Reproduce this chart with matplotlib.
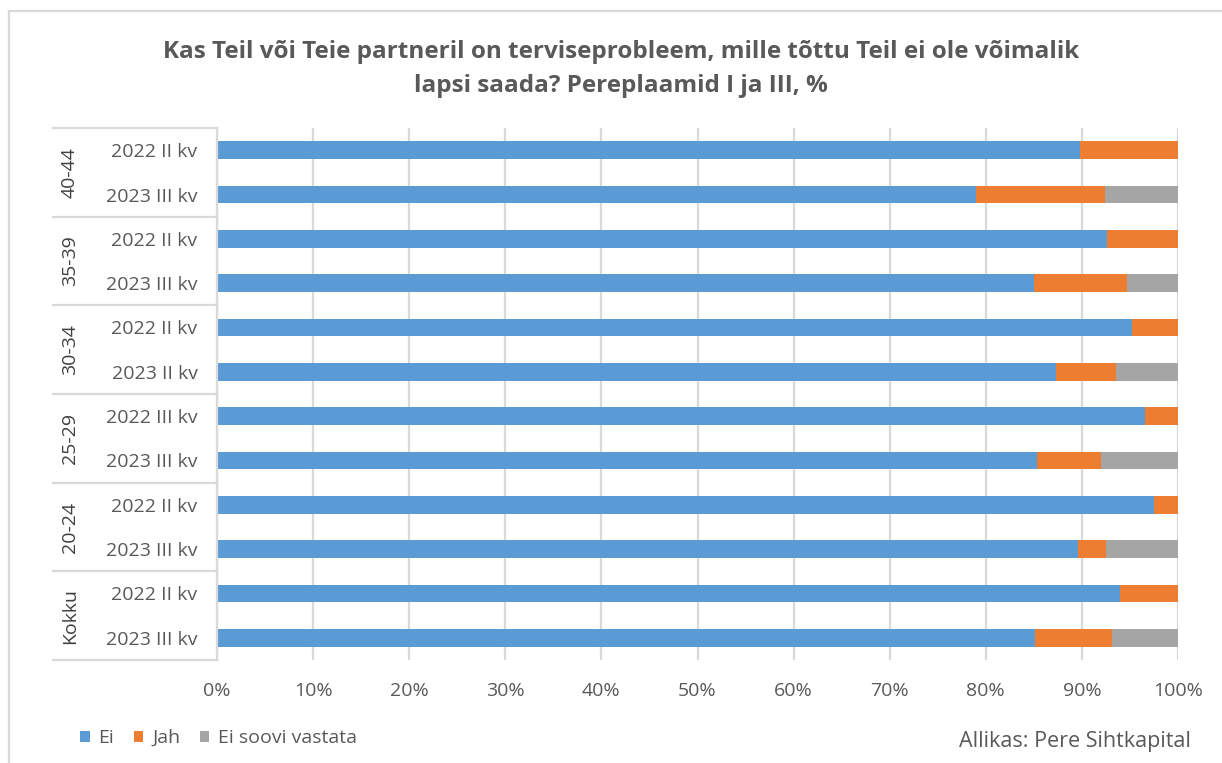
import matplotlib
matplotlib.use("Agg")
import matplotlib.pyplot as plt
from matplotlib.patches import Patch
from matplotlib.lines import Line2D
import matplotlib.transforms as mtransforms

plt.rcParams['font.family'] = ['Open Sans', 'DejaVu Sans']

title = "Kas Teil või Teie partneril on terviseprobleem, mille tõttu Teil ei ole võimalik\nlapsi saada? Pereplaamid I ja III, %"
groups = ["40-44", "35-39", "30-34", "25-29", "20-24", "Kokku"]
periods = ["2022 II kv", "2023 III kv", "2022 II kv", "2023 III kv", "2022 II kv", "2023 II kv",
           "2022 III kv", "2023 III kv", "2022 II kv", "2023 III kv", "2022 II kv", "2023 III kv"]
ei = [89.8, 79.0, 92.6, 85.0, 95.2, 87.3, 96.6, 85.3, 97.5, 89.6, 94.0, 85.1]
jah = [10.2, 13.4, 7.4, 9.7, 4.8, 6.2, 3.4, 6.7, 2.5, 2.9, 6.0, 8.0]
ei_soovi = [0, 7.6, 0, 5.3, 0, 6.5, 0, 8.0, 0, 7.5, 0, 6.9]
series_names = ["Ei", "Jah", "Ei soovi vastata"]
colors = ["#5b9bd5", "#ed7d31", "#a5a5a5"]
source = "Allikas: Pere Sihtkapital"

txt = "#595959"
grid_c = "#d9d9d9"

W, H = 1222, 763
fig = plt.figure(figsize=(W / 100, H / 100), dpi=100)
ax = fig.add_axes([217 / W, 1 - 660 / H, (1178 - 217) / W, (660 - 128) / H])

y = list(range(len(periods)))
left = [0] * len(y)
for vals, c in zip([ei, jah, ei_soovi], colors):
    ax.barh(y, vals, left=left, height=0.4, color=c, zorder=3)
    left = [l + v for l, v in zip(left, vals)]

ax.set_xlim(0, 100)
ax.set_ylim(len(y) - 0.5, -0.5)
ax.set_xticks(range(0, 101, 10))
ax.set_xticklabels([f"{v}%" for v in range(0, 101, 10)], color=txt, fontsize=14)
ax.set_yticks(y)
ax.set_yticklabels(periods, color=txt, fontsize=14)
ax.tick_params(axis='y', length=0, pad=14)
ax.tick_params(axis='x', length=0, pad=16)
ax.grid(axis='x', color=grid_c, linewidth=1.6, zorder=0)
for s in ["top", "right", "bottom"]:
    ax.spines[s].set_visible(False)
ax.spines["left"].set_color(grid_c)
ax.spines["left"].set_linewidth(1.6)
ax.spines["left"].set_zorder(4)

# group separators and labels
trans = mtransforms.blended_transform_factory(ax.transAxes, ax.transData)
x_left = (53 - 217) / (1178 - 217)
for k in range(len(groups) + 1):
    yb = 2 * k - 0.5
    ax.add_line(Line2D([x_left, 0], [yb, yb], transform=trans, color=grid_c,
                       linewidth=1.6, clip_on=False))
x_g = (70 - 217) / (1178 - 217)
for k, g in enumerate(groups):
    ax.text(x_g, 2 * k + 0.5, g, transform=trans, rotation=90, ha='center', va='center',
            color="#404040", fontsize=14)

# title
fig.text(621 / W, 1 - 69 / H, title, ha='center', va='center', fontsize=17.5,
         fontweight='bold', color=txt, linespacing=1.5)

# legend
handles = [Patch(facecolor=c, edgecolor='none') for c in colors]
fig.legend(handles, series_names, loc='center left', bbox_to_anchor=(80 / W, 1 - 738 / H),
           ncol=3, frameon=False, fontsize=14, handlelength=0.5, handleheight=0.5,
           handletextpad=0.45, columnspacing=1.0, labelcolor=txt, borderpad=0, borderaxespad=0)

fig.text(1191 / W, 1 - 742 / H, source, ha='right', va='center', fontsize=15.5, color=txt)

# outer chart frame (top and left)
fig.add_artist(Line2D([9 / W, 1], [1 - 11 / H, 1 - 11 / H], transform=fig.transFigure,
                      color=grid_c, linewidth=1.6))
fig.add_artist(Line2D([9 / W, 9 / W], [0, 1 - 11 / H], transform=fig.transFigure,
                      color=grid_c, linewidth=1.6))

fig.savefig("out.png", dpi=100, facecolor="white")
